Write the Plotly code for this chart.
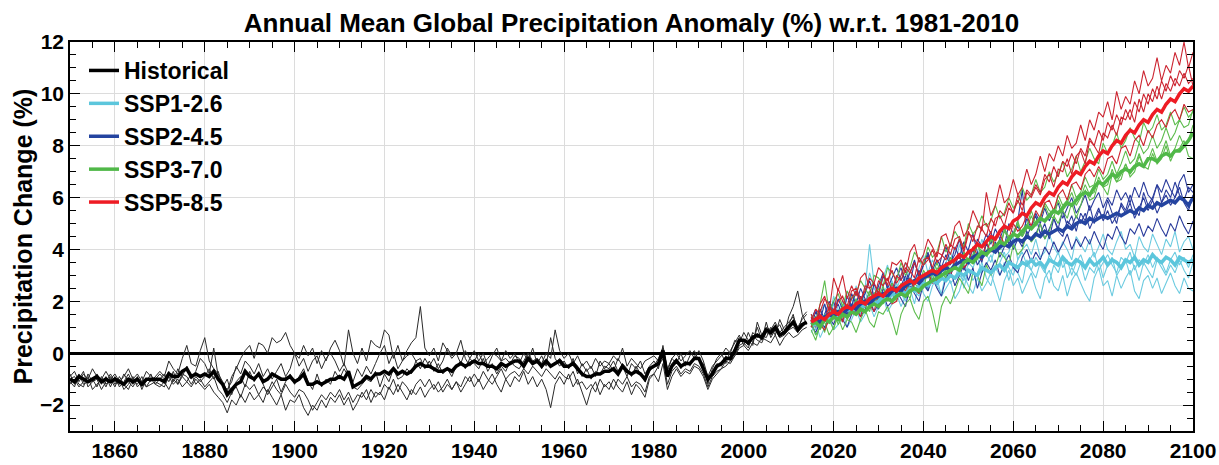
import plotly.graph_objects as go

years_hist = list(range(1850, 2015))
years_ssp = list(range(2015, 2101))

hist_mean = [
-1.0,-1.1,-0.9,-1.0,-1.1,-1.0,-0.9,-1.1,-1.0,-1.1,
-1.0,-1.1,-1.2,-1.0,-1.1,-1.0,-1.2,-1.0,-1.0,-1.0,
-1.0,-1.1,-0.8,-0.9,-0.9,-0.7,-0.6,-0.9,-0.8,-0.9,
-0.8,-0.9,-0.7,-1.0,-1.2,-1.6,-1.4,-1.2,-1.1,-0.7,
-0.9,-1.0,-0.8,-1.1,-1.0,-0.8,-0.9,-1.0,-1.0,-0.9,
-1.1,-1.0,-0.8,-1.2,-1.2,-1.1,-1.2,-1.1,-1.0,-1.0,
-0.9,-1.0,-0.7,-1.3,-1.2,-1.1,-0.9,-1.0,-0.8,-0.8,
-0.7,-0.8,-0.6,-0.8,-0.7,-0.8,-0.7,-0.5,-0.4,-0.5,
-0.5,-0.6,-0.7,-0.7,-0.6,-0.7,-0.5,-0.4,-0.5,-0.4,
-0.3,-0.4,-0.4,-0.5,-0.5,-0.6,-0.4,-0.5,-0.4,-0.3,
-0.3,-0.5,-0.2,-0.4,-0.3,-0.5,-0.3,-0.5,-0.4,-0.3,
-0.5,-0.5,-0.4,-0.6,-0.8,-0.9,-0.9,-0.8,-0.8,-0.7,
-0.7,-0.6,-0.8,-0.5,-0.7,-0.8,-0.7,-0.8,-1.0,-0.6,
-0.5,-0.4,0.1,-0.9,-0.5,-0.3,-0.5,-0.4,-0.4,-0.2,
-0.2,-0.6,-1.0,-0.8,-0.5,-0.4,-0.2,-0.2,0.1,0.5,
0.5,0.4,0.6,0.7,0.6,0.9,0.8,1.0,0.7,0.8,
1.0,1.2,0.9,1.1,1.2]

hist_m1 = [
-0.8,-1.2,-1.0,-0.7,-1.3,-1.1,-0.8,-1.2,-0.9,-1.3,
-0.9,-1.3,-1.1,-0.8,-1.2,-0.9,-1.4,-1.0,-1.1,-0.9,
-0.7,-0.9,-0.3,-0.6,-0.8,-0.2,0.3,-0.4,-0.5,0.1,
0.6,-0.3,-0.6,-0.8,-1.1,-1.5,-0.9,-0.6,-0.2,0.1,
0.3,-0.2,0.4,0.3,0.0,0.6,0.4,0.5,0.8,0.3,
0.0,-0.2,0.3,-0.1,0.2,-0.4,0.1,-0.3,0.2,0.5,
0.1,-0.5,0.9,0.0,-0.4,0.2,-0.3,0.5,0.3,0.2,
0.9,0.7,-0.2,0.3,-0.3,0.1,0.4,0.6,1.8,0.2,
-0.1,0.2,-0.3,0.4,0.1,-0.2,0.0,-0.4,0.1,-0.2,
0.1,-0.3,0.0,-0.5,-0.1,0.2,-0.3,0.1,-0.2,0.0,
-0.4,0.0,-0.3,0.2,-0.4,-0.1,-0.5,0.6,-0.2,-0.5,
-0.3,-0.6,-0.2,-0.8,-0.4,-0.7,-0.5,-0.9,-0.3,-0.6,
-0.4,-0.7,-0.2,-0.5,-0.9,-0.4,-0.6,-0.3,-0.8,-0.5,
-0.3,-0.6,0.3,-0.7,-0.2,-0.4,0.0,-0.5,-0.1,0.1,
-0.3,-0.4,-1.2,-0.6,-0.2,0.0,-0.4,0.1,0.4,0.7,
0.3,0.8,0.4,1.0,0.5,1.2,0.6,0.9,1.1,0.7,
1.4,1.8,2.4,1.5,1.1]

hist_m2 = [
-1.2,-1.0,-1.3,-1.1,-0.9,-1.4,-1.2,-1.0,-1.3,-0.9,
-1.2,-1.0,-1.4,-1.2,-0.9,-1.3,-1.1,-1.3,-1.0,-1.2,
-1.3,-1.1,-1.4,-1.0,-1.2,-0.9,-1.1,-1.3,-1.0,-1.2,
-1.4,-1.2,-1.5,-1.7,-1.9,-2.3,-1.8,-2.0,-1.6,-1.9,
-1.5,-1.8,-1.6,-1.9,-1.4,-1.7,-2.0,-1.6,-2.2,-1.8,
-1.9,-1.6,-2.1,-2.4,-2.0,-2.2,-1.8,-2.1,-1.7,-1.9,
-1.6,-2.0,-1.7,-2.2,-1.9,-1.5,-1.8,-1.4,-1.7,-1.5,
-1.8,-1.3,-1.6,-1.2,-1.5,-1.8,-1.4,-1.6,-1.3,-1.7,
-1.4,-1.2,-1.5,-1.3,-1.0,-1.4,-1.1,-1.5,-1.2,-0.9,
-1.3,-1.0,-1.4,-1.1,-0.8,-1.2,-1.5,-1.0,-1.3,-0.9,
-1.1,-0.7,-1.2,-0.9,-1.3,-1.0,-1.4,-2.1,-1.2,-0.9,
-1.2,-0.8,-1.3,-1.0,-1.5,-2.0,-1.4,-1.1,-1.6,-1.2,
-1.4,-1.0,-1.3,-1.5,-1.1,-1.6,-1.2,-1.4,-1.7,-1.0,
-0.8,-1.1,-0.4,-1.4,-0.9,-0.6,-0.9,-0.7,-0.8,-0.5,
-0.6,-0.9,-1.4,-1.0,-0.8,-0.6,-0.5,-0.3,-0.1,0.2,
0.3,0.1,0.4,0.3,0.6,0.5,0.4,0.7,0.3,0.6,
0.8,0.6,0.7,0.9,1.0]

hist_m3 = [
-0.9,-0.7,-1.1,-0.8,-1.0,-0.6,-0.9,-1.0,-0.7,-1.0,
-0.8,-1.1,-0.9,-0.6,-1.0,-0.8,-1.1,-0.7,-0.9,-1.0,
-0.8,-1.0,-0.7,-1.1,-0.6,-0.9,-0.5,-1.0,-0.7,-0.2,
-0.4,-0.8,0.2,-0.9,-1.2,-1.4,-1.1,-0.5,-0.8,-0.3,
-0.5,-0.8,-0.4,-0.9,-0.6,-1.0,-0.7,-0.4,-0.9,-0.6,
0.0,-0.5,-0.2,-0.7,-0.3,-0.1,-0.6,-0.2,0.0,-0.3,
-0.7,-0.4,-0.8,-1.1,-0.6,-0.9,-0.5,-0.8,-0.4,0.0,
0.3,-0.4,0.0,-0.6,-0.3,-0.1,0.0,-0.3,-0.6,-0.2,
-0.5,-0.2,-0.6,-0.3,0.2,-0.1,0.0,0.5,-0.2,-0.5,
-0.3,0.0,-0.4,-0.2,0.0,-0.1,-0.3,-0.2,-0.4,-0.1,
-0.2,-0.4,0.0,-0.3,-0.2,-0.4,0.0,-0.2,0.9,0.1,
-0.2,0.0,-0.4,-0.1,-0.5,-0.3,-0.6,-0.2,-0.5,-0.3,
-0.4,-0.1,-0.3,0.2,-0.5,-0.2,-0.4,-0.6,-0.3,-0.2,
-0.1,-0.3,0.2,-0.6,-0.2,0.0,-0.3,-0.1,0.1,-0.2,
0.1,-0.3,-0.9,-0.5,-0.3,-0.1,0.2,0.0,0.5,0.4,
0.8,0.5,0.3,1.2,0.7,0.6,1.0,0.7,1.3,0.9,
1.1,1.5,0.8,1.4,1.6]

hist_m4 = [
-1.1,-1.3,-0.8,-1.2,-1.1,-1.0,-1.3,-0.9,-1.2,-1.0,
-1.3,-0.9,-1.2,-1.4,-1.0,-1.2,-0.9,-1.3,-1.2,-1.1,
-1.2,-1.3,-0.9,-1.2,-1.0,-1.3,-1.1,-0.8,-1.2,-1.0,
-1.3,-1.1,-0.9,-1.4,-1.6,-1.9,-1.5,-1.3,-1.7,-1.2,
-1.4,-1.2,-1.6,-1.3,-1.5,-1.1,-1.4,-1.6,-1.2,-1.5,
-1.7,-1.4,-1.5,-1.8,-2.2,-1.9,-1.6,-1.8,-1.5,-1.7,
-1.4,-1.8,-1.5,-1.9,-1.6,-1.7,-1.4,-1.9,-1.5,-1.6,
-1.2,-1.4,-1.0,-1.5,-1.1,-1.3,-1.6,-1.2,-1.0,-1.3,
-1.0,-1.4,-1.1,-1.5,-1.2,-1.4,-1.1,-1.3,-0.9,-1.1,
-0.8,-1.1,-0.7,-1.0,-1.2,-0.9,-0.6,-1.0,-0.8,-0.7,
-0.9,-0.6,-0.8,-0.5,-0.7,-0.9,-0.6,-0.8,-1.0,-0.7,
-0.9,-1.0,-0.7,-1.2,-1.1,-1.4,-1.2,-1.5,-1.0,-1.3,
-1.1,-1.4,-1.0,-1.2,-0.9,-1.3,-1.1,-1.2,-1.5,-0.9,
-0.8,-0.5,-0.2,-1.2,-0.7,-0.5,-0.8,-0.6,-0.7,-0.4,
-0.5,-0.8,-1.3,-0.9,-0.7,-0.6,-0.3,-0.4,-0.1,0.3,
0.4,0.2,0.7,0.5,0.4,0.8,0.7,0.9,0.6,0.7,
0.9,1.0,0.8,1.0,1.2]

hist_m5 = [
-1.0,-0.9,-1.2,-1.3,-0.8,-1.1,-1.0,-1.4,-1.1,-0.8,
-1.1,-1.2,-0.8,-1.1,-1.3,-1.0,-1.2,-1.1,-0.8,-1.2,
-1.0,-0.8,-1.1,-0.7,-1.2,-0.8,-0.9,-1.2,-0.9,-1.1,
-0.9,-0.6,-1.0,-0.7,-1.3,-1.0,-1.6,-1.1,-0.9,-1.3,
-0.7,-1.1,-0.8,-1.2,-1.6,-1.3,-1.0,-1.5,-1.1,-0.8,
-1.2,-0.9,-0.6,-1.1,-1.4,-0.8,-1.3,-1.0,-1.2,-0.7,
-1.0,-0.6,-0.9,-1.3,-1.4,-1.2,-1.0,-1.1,-0.7,-1.3,
-0.8,-1.1,-0.6,-1.0,-0.9,-0.6,-0.8,-0.3,-0.2,-0.6,
-0.3,-0.7,-0.4,-0.8,-0.6,-0.9,-0.5,-0.3,-0.6,-0.2,
-0.4,-0.6,-0.2,-0.7,-0.4,-0.8,-0.5,-0.7,-0.3,-0.5,
-0.6,-0.3,0.0,-0.4,-0.2,-0.6,-0.3,-0.5,-0.4,-0.2,
-0.4,-0.6,-0.3,-0.5,-0.9,-0.6,-1.0,-0.7,-0.8,-0.5,
-0.6,-0.3,-0.7,-0.4,-0.6,-0.9,-0.5,-0.8,-1.1,-0.7,
-0.5,-0.2,0.2,-0.8,-0.4,-0.2,-0.6,-0.3,-0.5,-0.1,
-0.2,-0.5,-1.1,-0.7,-0.4,-0.5,-0.1,-0.3,0.2,0.6,
0.5,0.3,0.8,0.6,0.7,1.0,0.9,1.2,0.8,1.0,
1.2,1.4,1.0,1.3,1.5]

ssp126_mean = [
1.2,1.1,1.3,1.4,1.3,1.5,1.4,1.6,1.7,1.6,
1.8,1.7,1.9,2.1,1.9,2.0,2.2,2.1,2.3,2.2,
2.4,2.3,2.5,2.4,2.6,2.7,2.6,2.8,2.7,2.9,
2.8,3.0,2.9,3.1,3.0,3.2,3.1,3.0,3.3,3.2,
3.1,3.3,3.4,3.2,3.5,3.4,3.3,3.5,3.4,3.6,
3.4,3.5,3.3,3.6,3.5,3.4,3.7,3.5,3.4,3.6,
3.5,3.3,3.6,3.4,3.5,3.7,3.4,3.6,3.5,3.3,
3.6,3.5,3.7,3.4,3.6,3.5,3.8,3.6,3.5,3.7,
3.6,3.4,3.7,3.6,3.5,3.6]
ssp126_m1 = [
1.5,0.9,1.6,1.9,1.3,2.2,1.7,1.5,2.4,1.8,
2.6,2.0,2.3,3.1,2.5,2.2,2.9,3.4,2.6,2.4,
3.0,3.5,2.8,2.6,3.3,3.8,3.1,3.6,3.2,2.8,
3.5,3.9,3.3,4.2,3.6,3.4,4.0,3.7,4.4,3.8,
3.5,4.1,4.3,3.7,3.9,4.5,3.6,4.0,4.2,3.8,
4.4,3.7,3.9,4.6,4.1,3.8,4.3,4.0,3.6,4.5,
4.2,3.9,4.4,3.7,4.1,4.6,4.0,3.8,4.3,4.7,
4.0,4.2,3.7,4.5,4.1,3.9,4.6,4.2,3.8,4.4,
4.1,4.7,3.9,4.3,4.5,4.0]
ssp126_m2 = [
0.8,1.2,0.6,1.0,1.4,0.9,1.1,1.6,1.0,1.3,
1.7,1.2,1.5,1.9,1.4,1.8,2.2,1.6,1.9,2.3,
1.8,2.2,2.5,1.9,2.7,2.3,2.0,2.6,2.9,2.2,
2.5,2.8,2.1,2.4,3.0,2.6,2.3,2.9,2.4,2.7,
3.1,2.5,2.0,2.8,3.2,2.6,2.9,2.3,2.7,3.1,
2.5,2.1,2.9,3.2,2.6,2.4,3.0,2.2,2.8,3.1,
2.7,2.3,2.0,2.9,3.3,2.6,2.8,2.2,3.0,2.5,
2.9,3.2,2.4,2.1,2.8,3.0,2.5,2.9,2.3,2.7,
3.1,2.6,2.3,2.9,2.5,2.4]
ssp126_m3 = [
1.1,1.4,1.7,1.2,1.5,1.9,1.4,1.2,1.8,2.1,
1.6,2.0,2.4,1.8,2.2,2.6,2.0,2.3,2.8,2.1,
2.5,2.9,2.3,2.7,3.1,2.6,2.4,3.2,2.8,3.4,
2.9,3.2,3.6,3.0,2.8,3.5,3.3,3.7,3.1,3.4,
3.8,3.2,3.5,3.9,3.3,3.0,3.6,3.9,3.4,3.2,
3.7,3.4,3.1,3.8,3.5,3.9,3.3,3.6,3.0,3.5,
3.8,3.3,3.6,3.9,3.2,3.5,3.8,3.4,3.1,3.7,
3.5,3.9,3.2,3.6,3.4,3.8,3.3,3.7,3.5,3.1,
3.6,3.9,3.4,3.7,3.3,3.8]
ssp126_m4 = [
1.3,0.7,1.0,1.5,1.8,1.3,1.6,2.0,1.4,1.7,
2.1,1.5,2.5,4.2,2.7,1.9,2.3,2.6,2.0,2.7,
2.3,2.0,2.8,2.4,2.2,2.9,2.5,3.0,2.6,2.3,
3.1,2.7,2.9,3.4,2.5,3.2,2.8,3.1,3.5,2.9,
2.6,3.3,3.0,3.5,2.8,3.4,3.1,2.7,3.6,3.2,
2.9,3.5,3.2,2.7,3.4,3.1,3.7,2.9,3.3,3.0,
3.5,2.8,3.3,3.1,3.6,2.9,3.4,3.7,3.0,3.3,
3.6,3.0,3.4,2.8,3.5,3.2,2.9,3.6,3.3,3.0,
3.4,3.1,3.6,3.2,2.9,3.5]

ssp245_mean = [
1.2,1.3,1.2,1.4,1.5,1.4,1.6,1.5,1.7,1.8,
1.7,1.9,2.0,1.9,2.1,2.2,2.3,2.2,2.4,2.5,
2.4,2.6,2.7,2.8,2.7,2.9,3.0,3.1,3.0,3.2,
3.3,3.2,3.4,3.5,3.6,3.5,3.7,3.8,3.7,3.9,
4.0,3.9,4.1,4.2,4.1,4.3,4.4,4.3,4.5,4.4,
4.6,4.5,4.7,4.6,4.7,4.8,4.7,4.9,4.8,5.0,
5.1,5.0,5.2,5.1,5.2,5.3,5.2,5.3,5.4,5.3,
5.4,5.5,5.4,5.6,5.5,5.7,5.6,5.8,5.7,5.8,
5.9,5.8,6.0,5.9,5.7,6.0]
ssp245_m1 = [
1.0,1.6,1.3,1.9,1.2,1.5,2.1,1.7,1.4,2.3,
1.9,2.5,2.1,1.8,2.7,2.3,3.0,2.5,2.2,2.9,
3.3,2.7,3.1,3.6,2.9,3.4,3.9,3.2,3.0,3.7,
4.1,3.5,3.8,4.4,3.6,4.0,4.6,3.9,3.5,4.3,
4.7,4.0,4.4,4.9,4.2,4.6,5.1,6.3,4.5,4.9,
5.3,4.6,5.0,4.4,5.2,4.8,5.5,4.9,5.3,4.7,
5.4,5.1,5.7,5.0,5.5,5.2,5.9,5.4,5.0,5.8,
5.5,6.1,5.6,5.3,6.2,5.7,6.0,6.5,5.8,6.3,
6.0,6.6,6.1,5.9,6.4,6.2]
ssp245_m2 = [
1.4,1.1,1.7,1.3,1.6,2.0,1.4,1.8,1.5,1.9,
1.6,2.2,1.9,2.4,2.0,1.7,2.5,2.2,2.7,2.3,
2.6,3.0,2.4,2.8,3.2,2.7,2.5,3.3,2.9,3.1,
3.5,3.0,3.4,3.8,3.2,3.6,4.0,3.4,3.7,4.2,
3.9,4.3,3.7,4.1,4.5,4.0,4.4,4.1,4.7,4.3,
4.6,5.0,4.4,4.8,5.2,4.7,4.5,5.1,4.9,5.3,
5.0,5.4,4.8,5.2,5.6,5.1,5.5,5.0,5.3,5.7,
5.4,5.8,5.2,5.6,6.0,5.5,5.9,5.4,5.8,6.1,
5.7,6.0,6.4,5.8,5.5,6.1]
ssp245_m3 = [
1.1,0.8,1.2,1.0,1.4,1.1,1.6,1.3,1.0,1.5,
1.8,1.4,1.7,2.1,1.6,1.9,2.3,1.8,2.0,2.4,
2.1,1.8,2.6,2.3,2.0,2.7,2.4,2.9,2.5,2.2,
2.9,3.2,2.6,3.0,3.4,2.8,3.3,2.5,3.1,3.5,
3.2,3.6,3.0,3.4,3.8,3.3,3.1,3.7,4.0,3.5,
3.9,3.6,4.1,3.8,4.3,3.9,4.2,4.6,4.0,4.4,
4.1,4.5,4.2,4.7,4.3,4.0,4.6,4.4,4.9,4.5,
4.2,4.8,4.6,5.0,4.5,4.9,4.7,5.2,4.8,4.5,
5.0,4.7,5.3,4.9,4.6,5.1]
ssp245_m4 = [
1.3,1.7,1.1,1.5,2.0,1.6,1.9,1.4,2.2,1.8,
2.4,2.0,2.3,2.8,2.2,2.6,3.1,2.5,2.9,3.3,
2.8,3.2,2.7,3.5,3.0,3.4,3.8,3.2,3.6,3.3,
3.8,3.4,4.1,3.7,4.3,3.9,3.6,4.4,4.1,4.6,
4.2,4.8,4.4,4.1,5.0,4.6,4.9,4.5,5.2,4.8,
5.4,5.0,5.6,5.1,5.5,5.8,5.2,5.6,6.0,5.4,
5.7,6.1,5.5,5.9,6.2,5.6,6.0,5.7,6.3,5.9,
6.2,5.8,6.4,6.0,6.6,6.1,5.9,6.5,6.2,6.7,
6.3,6.0,6.6,6.9,6.2,6.5]

ssp370_mean = [
1.1,1.2,1.0,1.3,1.2,1.4,1.3,1.5,1.4,1.6,
1.5,1.7,1.6,1.8,1.9,1.8,2.0,2.1,2.0,2.2,
2.3,2.2,2.4,2.5,2.4,2.6,2.7,2.8,2.9,3.0,
3.1,3.2,3.3,3.2,3.5,3.6,3.5,3.7,3.9,3.8,
4.0,4.1,4.3,4.2,4.4,4.6,4.5,4.7,4.9,4.8,
5.0,5.2,5.1,5.3,5.5,5.4,5.6,5.8,5.7,5.9,
6.1,6.2,6.1,6.4,6.6,6.5,6.7,6.9,6.8,7.0,
7.1,7.0,7.2,7.3,7.2,7.5,7.5,7.4,7.6,7.7,
7.6,7.8,7.8,8.0,8.2,8.5]
ssp370_m1 = [
0.9,0.5,1.1,1.2,0.7,1.0,1.4,0.9,1.3,1.2,
0.8,1.3,1.7,1.2,1.0,1.6,1.5,1.8,1.3,0.7,
1.5,1.9,2.1,1.6,1.3,2.0,2.2,1.6,0.8,1.8,
2.2,1.9,2.4,2.9,2.6,2.3,3.1,3.0,2.6,3.4,
3.0,3.3,3.9,3.7,3.4,4.2,3.8,4.0,4.6,4.3,
4.5,5.0,4.4,4.7,5.3,5.0,5.5,5.2,5.8,5.2,
5.7,6.3,5.9,6.0,6.6,6.4,6.1,6.9,6.6,6.7,
7.3,6.8,7.0,7.6,7.2,7.1,7.7,7.3,7.5,8.0,
7.4,7.8,7.9,8.2,7.6,7.5]
ssp370_m2 = [
1.5,1.2,1.9,2.8,1.6,2.0,2.3,1.8,2.4,2.1,
2.3,2.8,2.5,2.2,3.0,2.9,2.6,3.3,3.1,2.8,
3.5,3.0,3.3,3.9,3.6,3.4,4.1,3.7,3.9,4.5,
3.9,4.2,4.7,4.4,4.1,5.0,4.6,4.8,5.3,4.9,
5.1,5.7,5.2,5.4,6.0,5.6,5.8,6.4,5.9,6.1,
6.7,6.2,6.4,7.0,6.6,6.9,7.4,6.8,7.1,7.6,
7.0,7.4,7.9,7.5,7.3,8.1,7.7,8.0,8.5,7.9,
8.2,8.7,8.3,8.1,8.9,8.5,8.7,9.2,8.6,8.8,
9.3,8.8,9.0,9.5,9.1,9.3]
ssp370_m3 = [
1.0,1.4,1.3,0.8,1.5,1.7,1.1,1.4,1.9,1.6,
1.5,2.1,1.9,1.6,2.3,2.5,1.9,2.2,2.7,2.4,
2.5,2.2,2.9,2.7,2.5,3.2,2.9,3.0,3.5,3.0,
3.2,3.7,3.4,3.1,3.9,3.6,3.8,4.2,3.7,3.9,
4.4,4.1,4.0,4.7,4.4,4.5,5.0,4.5,4.8,5.3,
4.9,5.2,5.7,5.3,5.2,5.9,5.5,5.8,6.2,5.7,
6.0,6.5,6.1,6.2,6.8,6.4,6.5,7.1,6.6,6.9,
7.3,6.9,7.2,7.7,7.2,7.4,7.9,7.4,7.7,8.2,
7.6,7.9,8.4,8.0,8.2,8.8]
ssp370_m4 = [
1.2,0.7,1.0,1.5,1.3,0.9,1.6,1.8,1.3,1.6,
2.1,1.6,1.8,2.4,2.0,2.1,2.6,2.0,2.3,2.0,
2.7,2.4,2.1,2.8,2.9,2.5,3.2,2.8,3.3,3.1,
2.9,3.6,3.4,3.2,3.9,3.5,3.6,4.2,3.9,3.8,
4.4,4.2,4.0,4.8,4.5,4.6,5.1,4.5,4.9,5.5,
5.0,5.3,5.8,5.5,5.4,6.1,5.7,5.9,6.5,6.0,
6.2,6.8,6.4,6.5,7.1,6.7,6.9,7.4,6.9,7.3,
7.8,7.3,7.5,8.1,7.7,7.9,8.4,7.9,8.2,8.7,
8.2,8.5,9.0,8.7,8.8,9.4]

ssp585_mean = [
1.2,1.3,1.4,1.3,1.5,1.6,1.5,1.7,1.8,1.7,
1.9,2.0,1.9,2.1,2.2,2.3,2.2,2.4,2.5,2.4,
2.6,2.7,2.8,2.7,2.9,3.0,3.1,3.2,3.1,3.3,
3.4,3.5,3.6,3.8,3.7,3.9,4.0,4.2,4.1,4.3,
4.5,4.4,4.7,4.9,4.8,5.1,5.2,5.4,5.3,5.6,
5.8,5.7,6.0,6.2,6.1,6.4,6.6,6.5,6.8,7.0,
6.9,7.2,7.4,7.3,7.6,7.8,7.7,8.0,8.2,8.1,
8.4,8.6,8.5,8.8,9.0,8.9,9.2,9.4,9.3,9.6,
9.8,9.7,10.0,10.2,10.1,10.3]
ssp585_m1 = [
1.5,1.1,1.9,2.2,1.6,2.9,2.4,3.0,2.1,2.6,
2.2,2.9,3.1,2.5,2.7,3.3,3.1,2.6,3.5,3.4,
3.6,3.1,3.9,4.2,3.5,3.8,4.4,4.1,3.7,4.5,
4.6,4.1,4.9,5.1,4.5,4.8,5.5,5.1,4.7,6.2,
5.3,5.7,6.5,5.8,6.0,6.7,6.1,6.4,7.1,6.5,
6.9,7.6,7.0,7.7,7.4,8.0,7.6,8.4,7.9,8.1,
8.8,8.2,9.0,8.6,9.3,9.1,9.7,9.0,10.1,9.4,
9.9,9.6,10.5,10.0,10.9,10.3,10.6,11.4,10.5,11.1,
10.8,11.6,11.1,12.0,11.0,11.6]
ssp585_m2 = [
1.0,1.4,1.1,0.9,1.3,1.7,1.6,1.2,1.9,1.5,
1.7,1.4,2.1,1.9,1.6,2.3,2.2,2.5,1.9,2.0,
2.6,2.4,2.9,2.5,2.3,3.0,3.1,2.7,2.8,3.3,
3.4,3.0,3.6,3.7,3.3,3.5,4.1,3.8,3.6,4.3,
3.9,4.5,4.6,4.2,4.4,5.0,4.7,4.9,5.3,4.9,
5.5,5.2,5.8,5.9,5.5,6.1,6.3,5.9,6.5,6.6,
6.3,6.9,7.1,6.8,7.2,6.9,7.5,7.6,7.3,7.9,
8.0,7.6,8.2,8.4,8.0,8.6,8.3,8.8,9.0,8.7,
9.2,9.4,9.0,9.6,9.3,9.4]
ssp585_m3 = [
1.2,1.7,1.5,1.3,1.8,1.5,2.0,2.2,1.7,2.1,
2.4,1.9,2.6,2.5,2.1,2.8,2.6,2.9,2.4,3.0,
2.8,3.3,3.1,3.5,3.0,3.6,3.7,3.3,3.9,3.8,
3.6,4.2,4.0,4.4,3.9,4.6,4.5,4.2,4.9,5.0,
4.6,5.2,5.3,4.9,5.6,5.4,5.9,5.5,6.2,6.0,
6.4,6.1,6.7,6.9,6.4,7.1,7.0,7.5,6.9,7.6,
7.8,7.3,8.2,8.0,7.7,8.5,8.3,8.8,8.4,9.1,
9.0,9.4,8.9,9.8,9.3,10.0,9.7,10.3,9.8,10.4,
10.1,10.6,10.3,10.8,10.4,10.6]
ssp585_m4 = [
1.4,1.0,1.6,2.1,1.9,1.5,2.5,2.0,1.8,2.4,
2.5,2.1,2.4,2.9,2.7,2.3,3.0,2.8,3.2,2.7,
3.0,3.5,3.2,2.9,3.7,3.4,3.6,4.0,3.5,3.7,
4.2,3.8,4.4,4.5,4.0,4.7,4.3,4.9,4.8,4.5,
5.2,4.9,5.5,5.3,5.8,5.4,6.1,5.7,6.3,6.1,
6.5,6.2,6.9,6.6,7.2,6.8,7.4,7.2,7.7,7.3,
7.9,7.6,8.3,8.0,8.6,8.2,8.9,8.6,9.2,8.8,
9.4,9.0,9.7,9.3,10.0,9.6,10.2,9.8,10.5,10.1,
10.7,10.3,10.9,10.6,11.1,10.3]

scenarios = [
    ("SSP1-2.6", ssp126_mean, [ssp126_m1, ssp126_m2, ssp126_m3, ssp126_m4], "#5cc6dc", "#6ccbe0"),
    ("SSP2-4.5", ssp245_mean, [ssp245_m1, ssp245_m2, ssp245_m3, ssp245_m4], "#2444a0", "#2a3c9c"),
    ("SSP3-7.0", ssp370_mean, [ssp370_m1, ssp370_m2, ssp370_m3, ssp370_m4], "#50b848", "#5cbc4c"),
    ("SSP5-8.5", ssp585_mean, [ssp585_m1, ssp585_m2, ssp585_m3, ssp585_m4], "#ee1c24", "#cc2430"),
]

fig = go.Figure()

for m in [hist_m1, hist_m2, hist_m3, hist_m4, hist_m5]:
    fig.add_trace(go.Scatter(x=years_hist, y=m, mode="lines",
                             line=dict(color="#2a2a2a", width=1), showlegend=False,
                             hoverinfo="skip"))
fig.add_trace(go.Scatter(x=years_hist, y=hist_mean, mode="lines", name="Historical",
                         line=dict(color="black", width=3.5)))

for name, mean, members, cmean, cthin in scenarios:
    for m in members:
        fig.add_trace(go.Scatter(x=years_ssp, y=m, mode="lines",
                                 line=dict(color=cthin, width=1.1), showlegend=False,
                                 hoverinfo="skip"))
for name, mean, members, cmean, cthin in scenarios:
    fig.add_trace(go.Scatter(x=years_ssp, y=mean, mode="lines", name=name,
                             line=dict(color=cmean, width=3.5)))

font_fam = "Liberation Sans, Arial, sans-serif"
L, R, T, B = 70, 26, 42, 34
plot_w = 1219 - L - R
plot_h = 465 - T - B

fig.update_layout(
    width=1219, height=465,
    margin=dict(l=L, r=R, t=T, b=B, autoexpand=False),
    paper_bgcolor="white", plot_bgcolor="white",
    font=dict(family=font_fam, color="black"),
    title=dict(text="<b>Annual Mean Global Precipitation Anomaly (%) w.r.t. 1981-2010</b>",
               x=0.5, xref="paper", xanchor="center",
               y=1 - 23 / 465, yref="container", yanchor="middle",
               font=dict(size=26, family=font_fam, color="black")),
    legend=dict(x=(84 - L) / plot_w, y=1.0 - 7 / plot_h, xanchor="left", yanchor="top",
                bgcolor="rgba(0,0,0,0)", borderwidth=0,
                font=dict(size=23, family=font_fam, color="black", weight="bold"),
                tracegroupgap=0),
    showlegend=True,
    annotations=[dict(text="<b>Precipitation Change (%)</b>", textangle=-90,
                      xref="paper", yref="paper", x=(22 - L) / plot_w, y=0.5,
                      xanchor="center", yanchor="middle", showarrow=False,
                      font=dict(size=25, family=font_fam, color="black"))],
)

fig.update_xaxes(
    range=[1850, 2100], tickmode="linear", tick0=1860, dtick=20,
    ticks="inside", ticklen=10, tickwidth=1.2, tickcolor="black",
    showline=True, linecolor="black", linewidth=1.5, mirror="ticks",
    showgrid=True, gridcolor="#dcdcdc", gridwidth=1, automargin=False,
    tickfont=dict(size=21, family=font_fam, color="black", weight="bold"),
    minor=dict(dtick=5, tick0=1850, ticks="inside", ticklen=6, tickcolor="black", showgrid=False),
    zeroline=False,
)
fig.update_yaxes(
    range=[-3, 12], tickmode="linear", tick0=0, dtick=2,
    ticks="inside", ticklen=10, tickwidth=1.2, tickcolor="black",
    showline=True, linecolor="black", linewidth=1.5, mirror="ticks",
    showgrid=True, gridcolor="#dcdcdc", gridwidth=1, automargin=False,
    tickfont=dict(size=21, family=font_fam, color="black", weight="bold"),
    minor=dict(dtick=0.5, ticks="inside", ticklen=6, tickcolor="black", showgrid=False),
    zeroline=True, zerolinecolor="black", zerolinewidth=2.5,
)

fig.write_html("out.html", config={"displayModeBar": False},
               post_script="document.body.style.margin='0';document.body.style.padding='0';")
